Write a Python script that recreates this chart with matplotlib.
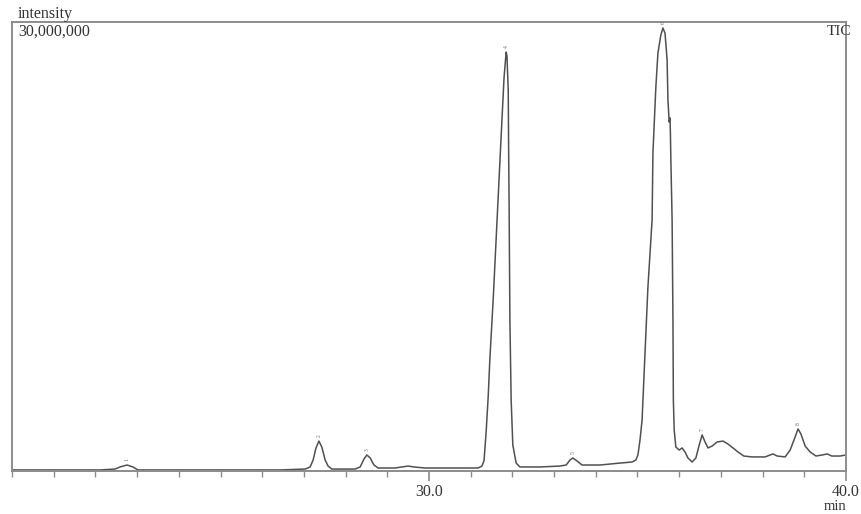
import matplotlib
matplotlib.use("Agg")
import matplotlib.pyplot as plt
from matplotlib.ticker import MultipleLocator, FixedLocator

# Retention time (min) of points
time_min = [
    20.00, 22.11, 22.47, 22.59, 22.76, 22.90, 23.02, 24.51, 26.43,
    27.03, 27.15, 27.22, 27.29, 27.36, 27.43, 27.51, 27.58, 27.67,
    28.23, 28.35, 28.44, 28.51, 28.59, 28.68, 28.78, 29.19, 29.35,
    29.50, 29.64, 29.90, 30.74, 31.10,
    31.18, 31.27, 31.32, 31.37, 31.42, 31.46, 31.54, 31.61, 31.68,
    31.75, 31.80, 31.85, 31.87, 31.90, 31.91, 31.92, 31.93, 31.94,
    31.97, 32.01, 32.09, 32.18,
    32.66, 33.14, 33.29, 33.38, 33.45, 33.55, 33.67, 34.10, 34.58,
    34.87, 34.96,
    35.01, 35.06, 35.11, 35.18, 35.25, 35.35, 35.37, 35.44, 35.49,
    35.56, 35.61, 35.66, 35.71, 35.73, 35.76, 35.78, 35.79, 35.80,
    35.83, 35.85, 35.86, 35.88, 35.92,
    36.00, 36.07, 36.14, 36.21, 36.31, 36.40, 36.48, 36.55, 36.62,
    36.69, 36.79, 36.91, 37.05, 37.17, 37.29, 37.41, 37.55, 37.75,
    38.06, 38.18, 38.25, 38.35, 38.54, 38.66, 38.78, 38.85, 38.92,
    39.02, 39.14, 39.28, 39.43, 39.55, 39.66, 39.86, 40.00,
]

# Intensity (millions of counts) at those times
intensity_m = [
    0.07, 0.07, 0.13, 0.27, 0.40, 0.27, 0.07, 0.07, 0.07,
    0.13, 0.27, 0.73, 1.54, 2.00, 1.60, 0.73, 0.33, 0.13,
    0.13, 0.27, 0.80, 1.07, 0.87, 0.40, 0.20, 0.20, 0.27,
    0.33, 0.27, 0.20, 0.20, 0.20,
    0.20, 0.33, 0.70, 2.60, 5.00, 7.50, 11.50, 15.50, 19.50,
    23.50, 26.30, 27.99, 27.72, 25.45, 21.45, 18.11, 14.10, 10.09,
    4.74, 1.74, 0.53, 0.27,
    0.27, 0.33, 0.40, 0.73, 0.87, 0.67, 0.40, 0.40, 0.53,
    0.60, 0.73,
    1.07, 2.07, 3.41, 7.88, 12.29, 16.77, 21.25, 25.65, 27.93,
    29.13, 29.60, 29.26, 27.46, 24.79, 23.32, 23.59, 22.45, 20.78,
    16.77, 10.09, 4.74, 2.74, 1.60,
    1.40, 1.54, 1.27, 0.87, 0.60, 0.87, 1.74, 2.41, 1.94,
    1.54, 1.67, 1.94, 2.00, 1.80, 1.54, 1.27, 1.00, 0.94,
    0.94, 1.07, 1.14, 1.00, 0.94, 1.40, 2.27, 2.81, 2.47,
    1.67, 1.27, 1.00, 1.07, 1.14, 1.00, 1.00, 1.07,
]

# Numbered peaks (apex time, apex intensity in millions)
peak_num = ["1", "2", "3", "4", "5", "6", "7", "8"]
peak_time = [22.76, 27.36, 28.51, 31.85, 33.45, 35.61, 36.55, 38.85]
peak_int = [0.40, 2.00, 1.07, 27.99, 0.87, 29.60, 2.41, 2.81]

serif = ["Liberation Serif", "DejaVu Serif"]
frame_col = "#8c8c8c"
trace_col = "#505050"
text_col = "#333333"

fig = plt.figure(figsize=(8.62, 5.14), dpi=100)
ax = fig.add_axes([12 / 862, 1 - 471 / 514, 834 / 862, 449 / 514])

ax.plot(time_min, [v * 1e6 for v in intensity_m], color=trace_col, lw=1.1)

for n, t, h in zip(peak_num, peak_time, peak_int):
    ax.text(t, h * 1e6 + 0.25e6, n, rotation=90, fontsize=4, color="#666666",
            ha="center", va="bottom", family=serif)

ax.set_xlim(20, 40)
ax.set_ylim(0, 30e6)

for s in ax.spines.values():
    s.set_color(frame_col)
    s.set_linewidth(1.4)

ax.xaxis.set_major_locator(FixedLocator([30, 40]))
ax.xaxis.set_minor_locator(MultipleLocator(1))
ax.set_xticklabels(["30.0", "40.0"])
ax.tick_params(axis="x", which="major", length=7, width=1.2, color=frame_col,
               labelsize=11.5, labelcolor=text_col, pad=2)
ax.tick_params(axis="x", which="minor", length=4, width=1.0, color=frame_col)
for lab in ax.get_xticklabels():
    lab.set_family(serif)
ax.set_yticks([])

fig.text(18 / 862, 1 - 18 / 514, "intensity", family=serif, fontsize=11.5,
         color=text_col, ha="left", va="baseline")
fig.text(18 / 862, 1 - 36 / 514, "30,000,000", family=serif, fontsize=11.5,
         color=text_col, ha="left", va="baseline")
fig.text(851 / 862, 1 - 35 / 514, "TIC", family=serif, fontsize=11,
         color=text_col, ha="right", va="baseline")
fig.text(846 / 862, 1 - 510 / 514, "min", family=serif, fontsize=10.5,
         color=text_col, ha="right", va="baseline")

fig.savefig("out.png", dpi=100, facecolor="white")
